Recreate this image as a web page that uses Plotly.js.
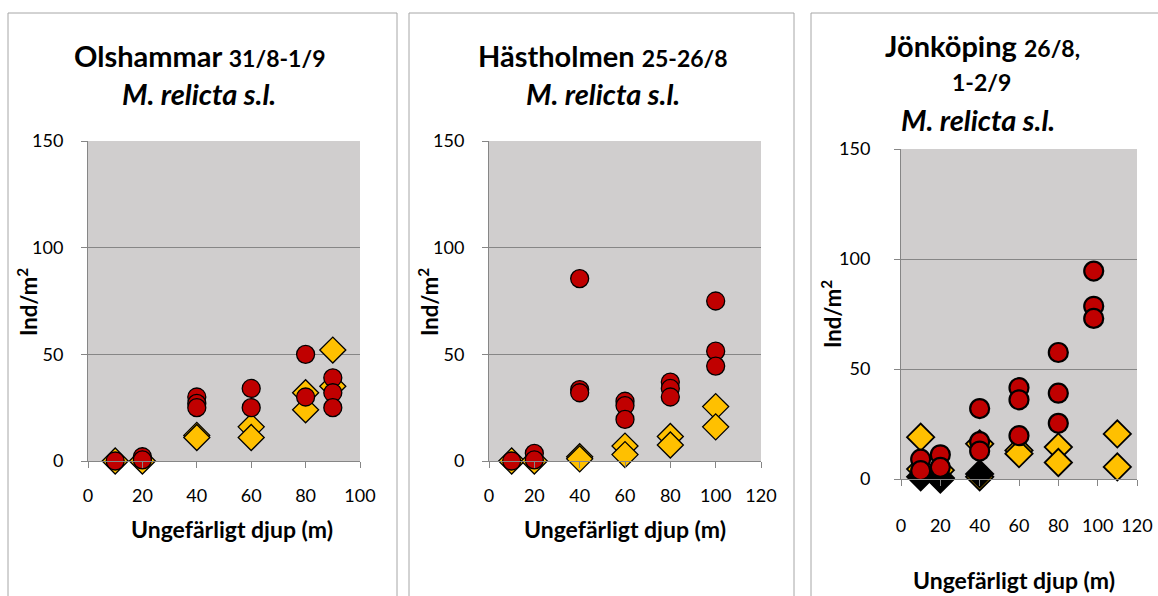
<!DOCTYPE html>
<html><head><meta charset="utf-8">
<script src="https://cdn.plot.ly/plotly-3.0.1.min.js"></script>
<style>body{margin:0;background:#fff}#c{width:1158px;height:596px}</style>
</head><body><div id="c"></div>
<script>
// Olshammar
const olsYellowX = [10,20,40,40,60,60,80,80,90,90];
const olsYellowY = [0,0,12,11,16,11,32,24,52,35];
const olsRedX = [10,20,20,40,40,40,60,60,80,80,90,90,90];
const olsRedY = [0,2,0.5,30,27,25,34,25,50,30,39,32,25];
// Hästholmen
const hasYellowX = [10,20,40,40,60,60,80,80,100,100];
const hasYellowY = [0,0,2,1,7,3,11.5,7.5,25.5,16];
const hasRedX = [10,20,20,40,40,40,60,60,60,80,80,80,100,100,100];
const hasRedY = [0,3.6,0.5,85.5,33.5,32,28,26,19.5,37,34,30,75,51.5,44.5];
// Jönköping
const jonYellowX = [10,10,20,20,40,40,60,60,80,80,110,110];
const jonYellowY = [19,4.5,4,0,16,1,13,11.5,14.5,7.5,20.5,5.5];
const jonBlackX = [10,20,40];
const jonBlackY = [1,0.5,2.3];
const jonRedX = [10,10,20,20,40,40,40,60,60,60,80,80,80,98,98,98];
const jonRedY = [9,3.8,11,5.3,32,17,12.7,41.5,36,19.7,57.5,39,25.3,94.5,78.5,73];

const yTicks = [0,50,100,150];
const xTitle = 'Ungefärligt djup (m)';
const yTitle = 'Ind/m<sup>2</sup>';

const YEL = '#FFC000', RED = '#C00000';
const FONT = 'Lato, "Open Sans", sans-serif';
const W = 1158, H = 596;

function dia(x,y,xa,ya,color,size,lw){return {x:x,y:y,xaxis:xa,yaxis:ya,type:'scatter',mode:'markers',cliponaxis:false,
  marker:{symbol:'diamond',size:size,color:color,line:{color:'#000',width:lw}},hoverinfo:'skip'};}
function circ(x,y,xa,ya,size,lw){return {x:x,y:y,xaxis:xa,yaxis:ya,type:'scatter',mode:'markers',cliponaxis:false,
  marker:{symbol:'circle',size:size,color:RED,line:{color:'#000',width:lw}},hoverinfo:'skip'};}

const data = [
  dia(olsYellowX,olsYellowY,'x','y',YEL,20,1.3),
  circ(olsRedX,olsRedY,'x','y',18,1.3),
  dia(hasYellowX,hasYellowY,'x2','y2',YEL,20,1.3),
  circ(hasRedX,hasRedY,'x2','y2',18,1.3),
  dia(jonYellowX,jonYellowY,'x3','y3',YEL,21,1.8),
  dia(jonBlackX,jonBlackY,'x3','y3','#000',21,1.8),
  circ(jonRedX,jonRedY,'x3','y3',19,2.2)
];

function xa(l,r,max,anchor,so){return {domain:[l/W,r/W],range:[0,max],dtick:20,tick0:0,anchor:anchor,
  showgrid:false,zeroline:false,showline:true,linecolor:'#868686',linewidth:1,ticks:'outside',ticklen:6,tickcolor:'#868686',
  ticklabelstandoff:so,tickfont:{family:FONT,size:18,color:'#000'},fixedrange:true};}
function ya(top,bot,anchor,so){return {domain:[(H-bot)/H,(H-top)/H],range:[0,150],tickvals:yTicks,anchor:anchor,
  showgrid:true,gridcolor:'#868686',gridwidth:1,zeroline:false,showline:true,linecolor:'#868686',linewidth:1,ticks:'outside',ticklen:6,tickcolor:'#868686',
  ticklabelstandoff:so,tickfont:{family:FONT,size:18,color:'#000'},fixedrange:true};}

function ann(text,x,y,size,extra){return Object.assign({text:text,xref:'paper',yref:'paper',x:x/W,y:1-y/H,showarrow:false,
  xanchor:'center',yanchor:'middle',font:{family:FONT,size:size,color:'#000'}},extra||{});}

const annotations = [
  ann('<b>Olshammar <span style="font-size:23px">31/8-1/9</span></b>',200,56,29),
  ann('<b><i>M. relicta s.l.</i></b>',199,94,29),
  ann('<b>Hästholmen <span style="font-size:23px">25-26/8</span></b>',603,56,29),
  ann('<b><i>M. relicta s.l.</i></b>',603,94,29),
  ann('<b>Jönköping <span style="font-size:23px">26/8,</span></b>',982,45,29),
  ann('<b><span style="font-size:23px">1-2/9</span></b>',981,82,23),
  ann('<b><i>M. relicta s.l.</i></b>',978,119,29),
  ann('<b>'+xTitle+'</b>',232,529,23),
  ann('<b>'+xTitle+'</b>',625,529,23),
  ann('<b>'+xTitle+'</b>',1014,580,23),
  ann('<b>'+yTitle+'</b>',27,302,22,{textangle:-90}),
  ann('<b>'+yTitle+'</b>',428,302,22,{textangle:-90}),
  ann('<b>'+yTitle+'</b>',831,314,22,{textangle:-90})
];

function box(l,r){return {type:'rect',xref:'paper',yref:'paper',x0:l/W,x1:r/W,y0:-0.05,y1:1-13/H,line:{color:'#A6A6A6',width:1},fillcolor:'rgba(0,0,0,0)',layer:'below'};}

const layout = {
  width:W,height:H,margin:{l:0,r:0,t:0,b:0},paper_bgcolor:'#fff',plot_bgcolor:'#D0CECE',showlegend:false,
  xaxis:xa(88,360,100,'y',12), yaxis:ya(141,461,'x',14),
  xaxis2:xa(489,761,120,'y2',12), yaxis2:ya(141,461,'x2',14),
  xaxis3:xa(901,1137,120,'y3',24), yaxis3:ya(149,479,'x3',20),
  annotations:annotations,
  shapes:[box(8,397),box(409,794),box(811,1170)]
};
Plotly.newPlot('c',data,layout,{staticPlot:true});
</script></body></html>
